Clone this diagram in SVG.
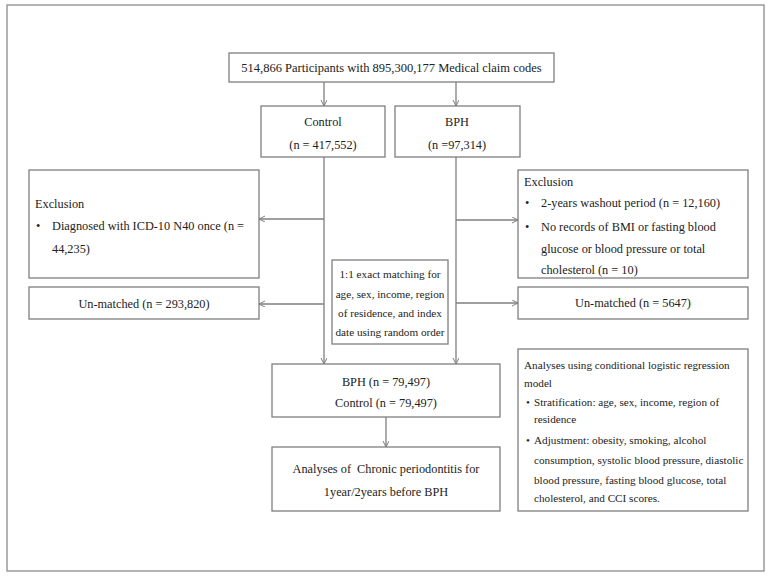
<svg xmlns="http://www.w3.org/2000/svg" width="771" height="577" viewBox="0 0 771 577">
<defs>
<style>
.box{fill:#fff;stroke:#7f7f7f;stroke-width:1.3}
.frame{fill:#fff;stroke:#8a8a8a;stroke-width:1.3}
.ln{fill:none;stroke:#7f7f7f;stroke-width:1.3}
text{font-family:"Liberation Serif","Times New Roman",serif;fill:#222}
.t{font-size:12.3px}
.c{text-anchor:middle}
.s{font-size:11.2px}
</style>
<marker id="ah" markerWidth="8" markerHeight="8" refX="6" refY="3" orient="auto" markerUnits="userSpaceOnUse">
<path d="M0,0 L6,3 L0,6" fill="none" stroke="#7f7f7f" stroke-width="1"/>
</marker>
</defs>
<rect class="frame" x="7" y="5" width="757" height="566"/>
<g id="connectors">
<line class="ln" x1="324" y1="82" x2="324" y2="106" marker-end="url(#ah)"/>
<line class="ln" x1="456" y1="82" x2="456" y2="106" marker-end="url(#ah)"/>
<line class="ln" x1="324" y1="157" x2="324" y2="364" marker-end="url(#ah)"/>
<line class="ln" x1="456" y1="157" x2="456" y2="364" marker-end="url(#ah)"/>
<line class="ln" x1="324" y1="219" x2="259" y2="219" marker-end="url(#ah)"/>
<line class="ln" x1="324" y1="304" x2="259" y2="304" marker-end="url(#ah)"/>
<line class="ln" x1="456" y1="220" x2="518" y2="220" marker-end="url(#ah)"/>
<line class="ln" x1="456" y1="303" x2="518" y2="303" marker-end="url(#ah)"/>
<line class="ln" x1="386" y1="417" x2="386" y2="447" marker-end="url(#ah)"/>
</g>
<g id="top">
<rect class="box" x="229" y="53" width="325" height="29"/>
<text class="c" x="391.5" y="72" font-size="12.5">514,866 Participants with 895,300,177 Medical claim codes</text>
</g>
<g id="control">
<rect class="box" x="261" y="106" width="124" height="51"/>
<text class="t c" x="323" y="126">Control</text>
<text class="t c" x="323" y="149">(n = 417,552)</text>
</g>
<g id="bph">
<rect class="box" x="395" y="106" width="125" height="51"/>
<text class="t c" x="457" y="126">BPH</text>
<text class="t c" x="457" y="149">(n =97,314)</text>
</g>
<g id="exclusion-left">
<rect class="box" x="29" y="170" width="230" height="108"/>
<text class="t" x="35" y="208">Exclusion</text>
<text class="t" x="36" y="230">•</text>
<text class="t" x="52" y="230">Diagnosed with ICD-10 N40 once (n =</text>
<text class="t" x="52" y="253">44,235)</text>
</g>
<g id="unmatched-left">
<rect class="box" x="29" y="287" width="230" height="32"/>
<text class="t c" x="144" y="308">Un-matched (n = 293,820)</text>
</g>
<g id="exclusion-right">
<rect class="box" x="518" y="170" width="230" height="108"/>
<text class="t" x="524" y="186">Exclusion</text>
<text class="t" x="525" y="207">•</text>
<text class="t" x="541" y="207">2-years washout period (n = 12,160)</text>
<text class="t" x="525" y="231">•</text>
<text class="t" x="541" y="231">No records of BMI or fasting blood</text>
<text class="t" x="541" y="253">glucose or blood pressure or total</text>
<text class="t" x="541" y="274">cholesterol (n = 10)</text>
</g>
<g id="unmatched-right">
<rect class="box" x="518" y="287" width="230" height="32"/>
<text class="t c" x="633" y="307">Un-matched (n = 5647)</text>
</g>
<g id="matching">
<rect class="box" x="332" y="260" width="116" height="84"/>
<text class="s c" x="390" y="278">1:1 exact matching for</text>
<text class="s c" x="390" y="298">age, sex, income, region</text>
<text class="s c" x="390" y="317">of residence, and index</text>
<text class="s c" x="390" y="336">date using random order</text>
</g>
<g id="matched">
<rect class="box" x="272" y="364" width="228" height="53"/>
<text class="t c" x="386" y="386">BPH (n = 79,497)</text>
<text class="t c" x="386" y="407">Control (n = 79,497)</text>
</g>
<g id="analyses">
<rect class="box" x="272" y="447" width="228" height="64"/>
<text class="t c" x="386" y="473" style="white-space:pre">Analyses of  Chronic periodontitis for</text>
<text class="t c" x="386" y="496">1year/2years before BPH</text>
</g>
<g id="analysis-model">
<rect class="box" x="518" y="349" width="230" height="162"/>
<text class="s" x="524" y="369">Analyses using conditional logistic regression</text>
<text class="s" x="524" y="387">model</text>
<text class="s" x="526" y="406">•</text>
<text class="s" x="534" y="406">Stratification: age, sex, income, region of</text>
<text class="s" x="534" y="423">residence</text>
<text class="s" x="526" y="444">•</text>
<text class="s" x="534" y="444">Adjustment: obesity, smoking, alcohol</text>
<text class="s" x="534" y="464">consumption, systolic blood pressure, diastolic</text>
<text class="s" x="534" y="484">blood pressure, fasting blood glucose, total</text>
<text class="s" x="534" y="502">cholesterol, and CCI scores.</text>
</g>
</svg>
